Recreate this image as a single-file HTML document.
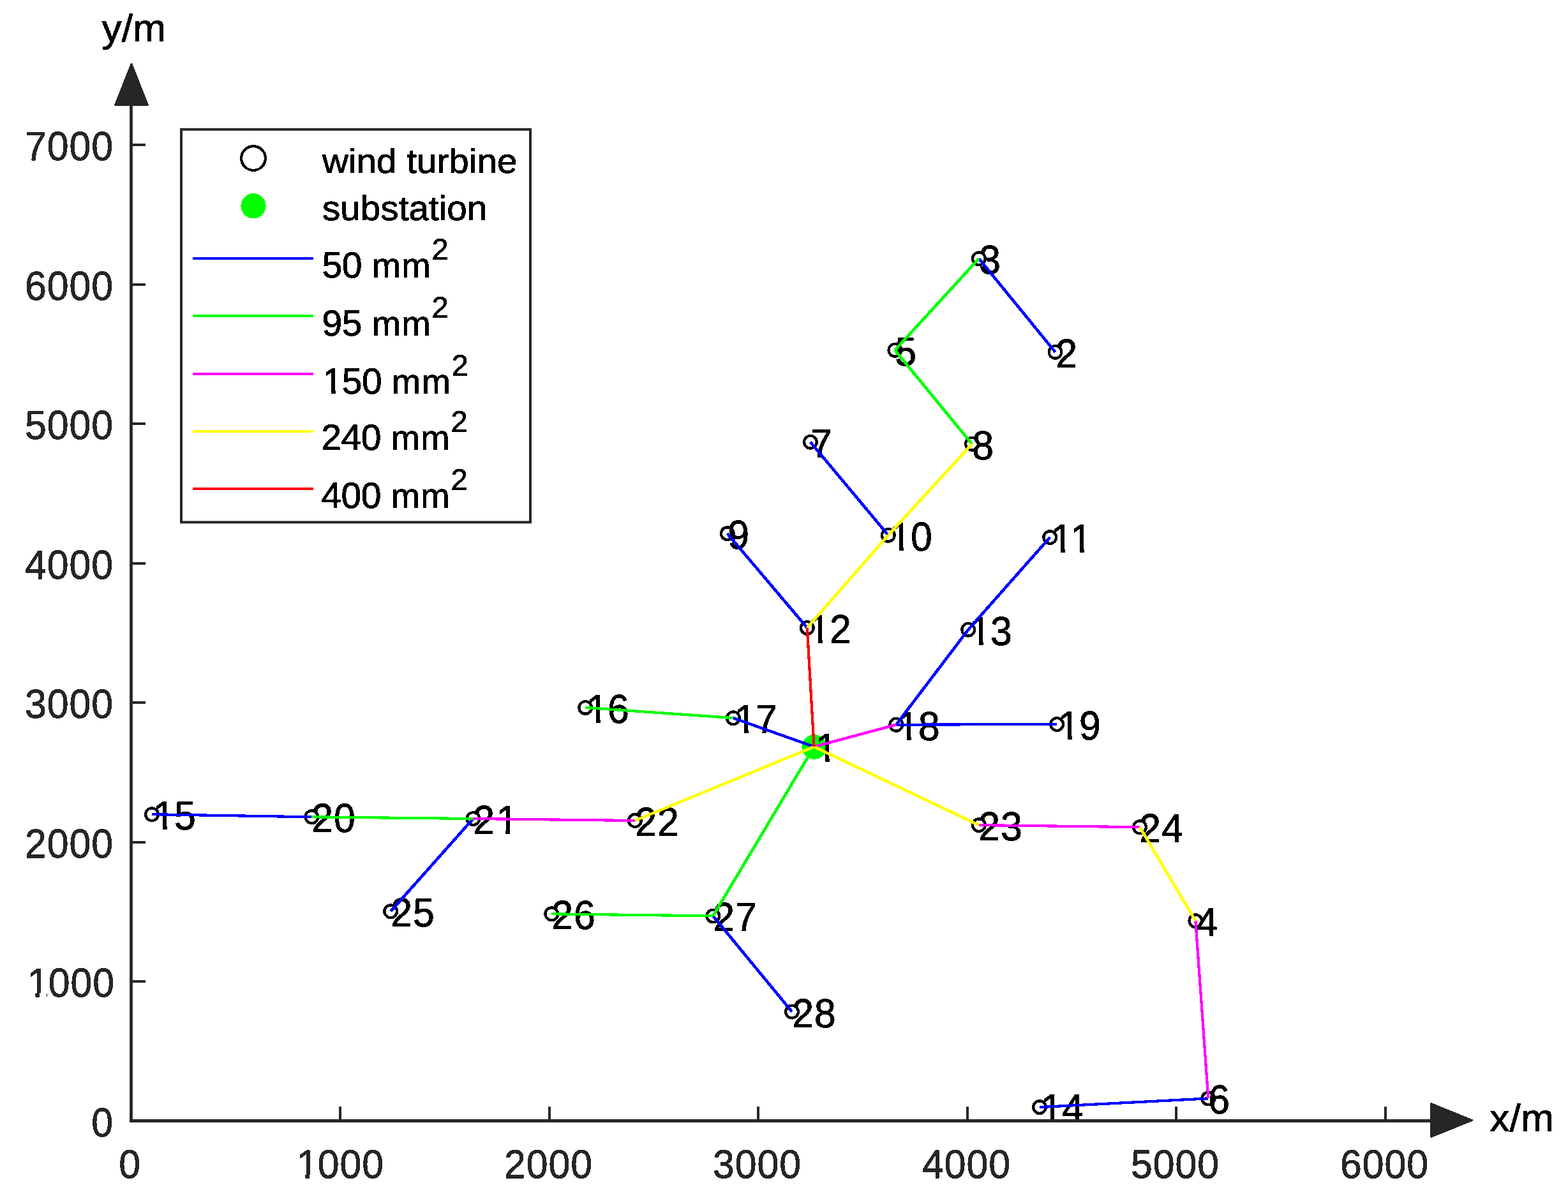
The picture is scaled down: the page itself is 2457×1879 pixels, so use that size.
<!DOCTYPE html>
<html lang="en"><head><meta charset="utf-8"><title>Wind farm cable layout</title>
<style>
html,body{margin:0;padding:0;background:#fff;}
body{width:2457px;height:1879px;overflow:hidden;}
svg{display:block;}
text{font-family:"Liberation Sans",Arial,Helvetica,sans-serif;stroke-linejoin:round;font-kerning:normal;text-rendering:geometricPrecision;}
.tk{font-size:60.8px;letter-spacing:0.936px;fill:#262626;stroke:#262626;stroke-width:0.8px;}
.nd{font-size:60.8px;letter-spacing:0.936px;fill:#000;stroke:#000;stroke-width:0.8px;}
.lg{font-size:54.3px;fill:#000;stroke:#000;stroke-width:0.9px;}
.lr{font-size:57.1px;letter-spacing:-0.5px;fill:#000;stroke:#000;stroke-width:0.9px;}
.mm{font-size:54.6px;letter-spacing:1.35px;}
.sp{font-size:47px;letter-spacing:0;}
.al{font-size:60.4px;fill:#000;stroke:#000;stroke-width:0.9px;}
</style></head><body>
<svg xmlns="http://www.w3.org/2000/svg" width="2457" height="1879" viewBox="0 0 2457 1879">
<defs><filter id="bin" filterUnits="userSpaceOnUse" x="0" y="0" width="2457" height="1879" color-interpolation-filters="sRGB"><feComponentTransfer><feFuncA type="discrete" tableValues="0 1"/></feComponentTransfer></filter><clipPath id="c49_163_m55_232_341_m55"><path clip-rule="evenodd" d="M-400,-200H400V200H-400ZM4.93,-5.54H16.34V3H4.93ZM23.21,-5.54H34.15V3H23.21Z"/></clipPath><clipPath id="c49_163_m55_232_341_m55_352_466_m55_534_644_m55"><path clip-rule="evenodd" d="M-400,-200H400V200H-400ZM4.93,-5.54H16.34V3H4.93ZM23.21,-5.54H34.15V3H23.21ZM35.17,-5.54H46.58V3H35.17ZM53.45,-5.54H64.38V3H53.45Z"/></clipPath><clipPath id="c397_511_m55_580_689_m55"><path clip-rule="evenodd" d="M-400,-200H400V200H-400ZM39.68,-5.54H51.09V3H39.68ZM57.96,-5.54H68.90V3H57.96Z"/></clipPath><clipPath id="cm646_m532_m55_m463_m354_m55"><path clip-rule="evenodd" d="M-400,-200H400V200H-400ZM-64.57,-5.54H-53.16V3H-64.57ZM-46.29,-5.54H-35.35V3H-46.29Z"/></clipPath><clipPath id="cm1341_m1227_m55_m1158_m1049_m55"><path clip-rule="evenodd" d="M-400,-200H400V200H-400ZM-134.07,-5.54H-122.66V3H-134.07ZM-115.79,-5.54H-104.85V3H-115.79Z"/></clipPath><clipPath id="c38_146_m53_212_315_m53"><path clip-rule="evenodd" d="M-400,-200H400V200H-400ZM3.85,-5.32H14.56V3H3.85ZM21.21,-5.32H31.47V3H21.21Z"/></clipPath></defs>
<rect x="0" y="0" width="2457" height="1879" fill="#fff"/>
<g filter="url(#bin)">
<g fill="none" stroke="#000" stroke-width="4.3">
<circle cx="1653.5" cy="551.7" r="9.85"/>
<circle cx="1533.9" cy="405.2" r="9.85"/>
<circle cx="1873.4" cy="1443.2" r="9.85"/>
<circle cx="1402.4" cy="548.8" r="9.85"/>
<circle cx="1893.3" cy="1721.4" r="9.85"/>
<circle cx="1269.9" cy="692.8" r="9.85"/>
<circle cx="1523.0" cy="695.8" r="9.85"/>
<circle cx="1139.7" cy="836.1" r="9.85"/>
<circle cx="1391.8" cy="838.7" r="9.85"/>
<circle cx="1645.2" cy="842.1" r="9.85"/>
<circle cx="1264.8" cy="983.9" r="9.85"/>
<circle cx="1517.2" cy="986.8" r="9.85"/>
<circle cx="1629.0" cy="1735.1" r="9.85"/>
<circle cx="238.0" cy="1276.2" r="9.85"/>
<circle cx="917.2" cy="1108.9" r="9.85"/>
<circle cx="1148.9" cy="1125.2" r="9.85"/>
<circle cx="1404.3" cy="1135.7" r="9.85"/>
<circle cx="1656.1" cy="1135.0" r="9.85"/>
<circle cx="488.4" cy="1280.3" r="9.85"/>
<circle cx="741.4" cy="1283.0" r="9.85"/>
<circle cx="994.9" cy="1286.0" r="9.85"/>
<circle cx="1533.9" cy="1293.1" r="9.85"/>
<circle cx="1786.0" cy="1296.2" r="9.85"/>
<circle cx="612.2" cy="1428.2" r="9.85"/>
<circle cx="864.3" cy="1432.3" r="9.85"/>
<circle cx="1117.3" cy="1435.4" r="9.85"/>
<circle cx="1241.0" cy="1585.6" r="9.85"/>
</g>
<circle cx="1275.8" cy="1170.6" r="19.4" fill="#00ff00"/>
<text class="nd" transform="translate(1276.3 1193.6) scale(1.0000 1.0480)" dx="1.8" clip-path="url(#c49_163_m55_232_341_m55)">1</text>
<text class="nd" transform="translate(1654.3 575.6) scale(1.0000 1.0480)">2</text>
<text class="nd" transform="translate(1534.3 428.6) scale(1.0000 1.0480)">3</text>
<text class="nd" transform="translate(1874.3 1466.6) scale(1.0000 1.0480)">4</text>
<text class="nd" transform="translate(1402.3 572.6) scale(1.0000 1.0480)">5</text>
<text class="nd" transform="translate(1893.3 1744.6) scale(1.0000 1.0480)">6</text>
<text class="nd" transform="translate(1270.3 716.6) scale(1.0000 1.0480)">7</text>
<text class="nd" transform="translate(1523.3 719.6) scale(1.0000 1.0480)">8</text>
<text class="nd" transform="translate(1140.3 859.6) scale(1.0000 1.0480)">9</text>
<text class="nd" transform="translate(1392.3 862.6) scale(1.0000 1.0480)" dx="1.8 -1.8" clip-path="url(#c49_163_m55_232_341_m55)">10</text>
<text class="nd" transform="translate(1645.3 865.6) scale(1.0000 1.0480)" dx="1.8 0" clip-path="url(#c49_163_m55_232_341_m55_352_466_m55_534_644_m55)">11</text>
<text class="nd" transform="translate(1265.3 1007.6) scale(1.0000 1.0480)" dx="1.8 -1.8" clip-path="url(#c49_163_m55_232_341_m55)">12</text>
<text class="nd" transform="translate(1517.3 1010.6) scale(1.0000 1.0480)" dx="1.8 -1.8" clip-path="url(#c49_163_m55_232_341_m55)">13</text>
<text class="nd" transform="translate(1629.3 1758.6) scale(1.0000 1.0480)" dx="1.8 -1.8" clip-path="url(#c49_163_m55_232_341_m55)">14</text>
<text class="nd" transform="translate(238.3 1299.6) scale(1.0000 1.0480)" dx="1.8 -1.8" clip-path="url(#c49_163_m55_232_341_m55)">15</text>
<text class="nd" transform="translate(917.3 1132.6) scale(1.0000 1.0480)" dx="1.8 -1.8" clip-path="url(#c49_163_m55_232_341_m55)">16</text>
<text class="nd" transform="translate(1149.3 1148.6) scale(1.0000 1.0480)" dx="1.8 -1.8" clip-path="url(#c49_163_m55_232_341_m55)">17</text>
<text class="nd" transform="translate(1404.3 1159.6) scale(1.0000 1.0480)" dx="1.8 -1.8" clip-path="url(#c49_163_m55_232_341_m55)">18</text>
<text class="nd" transform="translate(1656.3 1158.6) scale(1.0000 1.0480)" dx="1.8 -1.8" clip-path="url(#c49_163_m55_232_341_m55)">19</text>
<text class="nd" transform="translate(488.3 1303.6) scale(1.0000 1.0480)">20</text>
<text class="nd" transform="translate(741.3 1306.6) scale(1.0000 1.0480)" dx="0 1.8" clip-path="url(#c397_511_m55_580_689_m55)">21</text>
<text class="nd" transform="translate(995.3 1309.6) scale(1.0000 1.0480)">22</text>
<text class="nd" transform="translate(1533.3 1316.6) scale(1.0000 1.0480)">23</text>
<text class="nd" transform="translate(1785.3 1319.6) scale(1.0000 1.0480)">24</text>
<text class="nd" transform="translate(612.3 1451.6) scale(1.0000 1.0480)">25</text>
<text class="nd" transform="translate(864.3 1455.6) scale(1.0000 1.0480)">26</text>
<text class="nd" transform="translate(1117.3 1458.6) scale(1.0000 1.0480)">27</text>
<text class="nd" transform="translate(1241.3 1609.6) scale(1.0000 1.0480)">28</text>
</g>
<g stroke="#0000ff" fill="none" stroke-linecap="butt" shape-rendering="crispEdges">
<line x1="1533.9" y1="405.2" x2="1653.5" y2="551.7" stroke-width="4.66"/>
<line x1="1269.9" y1="692.8" x2="1391.8" y2="838.7" stroke-width="4.66"/>
<line x1="1139.7" y1="836.1" x2="1264.8" y2="983.9" stroke-width="4.66"/>
<line x1="1645.2" y1="842.1" x2="1517.2" y2="986.8" stroke-width="4.67"/>
<line x1="1517.2" y1="986.8" x2="1404.3" y2="1135.7" stroke-width="4.65"/>
<line x1="1404.3" y1="1135.7" x2="1656.1" y2="1135.0" stroke-width="4.17"/>
<line x1="1148.9" y1="1125.2" x2="1275.6" y2="1170.2" stroke-width="4.49"/>
<line x1="238.0" y1="1276.2" x2="488.4" y2="1280.3" stroke-width="4.19"/>
<line x1="612.2" y1="1428.2" x2="741.4" y2="1283.0" stroke-width="4.67"/>
<line x1="1117.3" y1="1435.4" x2="1241.0" y2="1585.6" stroke-width="4.66"/>
<line x1="1629.0" y1="1735.1" x2="1893.3" y2="1721.4" stroke-width="4.22"/>
</g>
<g stroke="#00ff00" fill="none" stroke-linecap="butt" shape-rendering="crispEdges">
<line x1="1533.9" y1="405.2" x2="1402.4" y2="548.8" stroke-width="4.67"/>
<line x1="1402.4" y1="548.8" x2="1523.0" y2="695.8" stroke-width="4.66"/>
<line x1="917.2" y1="1108.9" x2="1148.9" y2="1125.2" stroke-width="4.24"/>
<line x1="488.4" y1="1280.3" x2="741.4" y2="1283.0" stroke-width="4.18"/>
<line x1="864.3" y1="1432.3" x2="1117.3" y2="1435.4" stroke-width="4.18"/>
<line x1="1117.3" y1="1435.4" x2="1275.6" y2="1170.2" stroke-width="4.61"/>
</g>
<g stroke="#ff00ff" fill="none" stroke-linecap="butt" shape-rendering="crispEdges">
<line x1="1404.3" y1="1135.7" x2="1275.6" y2="1170.2" stroke-width="4.42"/>
<line x1="741.4" y1="1283.0" x2="994.9" y2="1286.0" stroke-width="4.18"/>
<line x1="1533.9" y1="1293.1" x2="1786.0" y2="1296.2" stroke-width="4.18"/>
<line x1="1873.4" y1="1443.2" x2="1893.3" y2="1721.4" stroke-width="4.24"/>
</g>
<g stroke="#ffff00" fill="none" stroke-linecap="butt" shape-rendering="crispEdges">
<line x1="1523.0" y1="695.8" x2="1391.8" y2="838.7" stroke-width="4.67"/>
<line x1="1391.8" y1="838.7" x2="1264.8" y2="983.9" stroke-width="4.67"/>
<line x1="994.9" y1="1286.0" x2="1275.6" y2="1170.2" stroke-width="4.52"/>
<line x1="1533.9" y1="1293.1" x2="1275.6" y2="1170.2" stroke-width="4.56"/>
<line x1="1786.0" y1="1296.2" x2="1873.4" y2="1443.2" stroke-width="4.61"/>
</g>
<g stroke="#ff0000" fill="none" stroke-linecap="butt" shape-rendering="crispEdges">
<line x1="1264.8" y1="983.9" x2="1275.6" y2="1170.2" stroke-width="4.23"/>
</g>
<g stroke="#262626" stroke-width="4.8" fill="none" stroke-linecap="butt">
<line x1="205.5" y1="160.0" x2="205.5" y2="1758.9"/>
<line x1="203.1" y1="1756.5" x2="2245.0" y2="1756.5"/>
</g>
<g stroke="#262626" stroke-width="4" fill="none">
<line x1="533.0" y1="1756.5" x2="533.0" y2="1734.2"/>
<line x1="861.0" y1="1756.5" x2="861.0" y2="1734.2"/>
<line x1="1188.0" y1="1756.5" x2="1188.0" y2="1734.2"/>
<line x1="1516.0" y1="1756.5" x2="1516.0" y2="1734.2"/>
<line x1="1843.0" y1="1756.5" x2="1843.0" y2="1734.2"/>
<line x1="2171.0" y1="1756.5" x2="2171.0" y2="1734.2"/>
<line x1="205.5" y1="1538.0" x2="228.0" y2="1538.0"/>
<line x1="205.5" y1="1320.0" x2="228.0" y2="1320.0"/>
<line x1="205.5" y1="1101.0" x2="228.0" y2="1101.0"/>
<line x1="205.5" y1="883.0" x2="228.0" y2="883.0"/>
<line x1="205.5" y1="664.0" x2="228.0" y2="664.0"/>
<line x1="205.5" y1="446.0" x2="228.0" y2="446.0"/>
<line x1="205.5" y1="227.0" x2="228.0" y2="227.0"/>
</g>
<g fill="#262626" stroke="#262626" stroke-width="3" stroke-linejoin="round" shape-rendering="crispEdges">
<polygon points="206.0,100.5 180.8,164.2 231.2,164.2"/>
<polygon points="2306.5,1755.6 2242.8,1729.8 2242.8,1781.3"/>
</g>
<g filter="url(#bin)">
<text class="tk" transform="translate(203.6 1846.0) scale(1.0000 1.0300)" text-anchor="middle">0</text>
<text class="tk" transform="translate(531.6 1846.0) scale(1.0000 1.0300)" text-anchor="middle" dx="1.8 -1.8 0 0" clip-path="url(#cm646_m532_m55_m463_m354_m55)">1000</text>
<text class="tk" transform="translate(859.6 1846.0) scale(1.0000 1.0300)" text-anchor="middle">2000</text>
<text class="tk" transform="translate(1186.6 1846.0) scale(1.0000 1.0300)" text-anchor="middle">3000</text>
<text class="tk" transform="translate(1514.6 1846.0) scale(1.0000 1.0300)" text-anchor="middle">4000</text>
<text class="tk" transform="translate(1841.6 1846.0) scale(1.0000 1.0300)" text-anchor="middle">5000</text>
<text class="tk" transform="translate(2169.6 1846.0) scale(1.0000 1.0300)" text-anchor="middle">6000</text>
<text class="tk" transform="translate(178.1 1781.0) scale(1.0000 1.0480)" text-anchor="end">0</text>
<text class="tk" transform="translate(178.1 1562.0) scale(1.0000 1.0480)" text-anchor="end" dx="1.8 -1.8 0 0" clip-path="url(#cm1341_m1227_m55_m1158_m1049_m55)">1000</text>
<text class="tk" transform="translate(178.1 1344.0) scale(1.0000 1.0480)" text-anchor="end">2000</text>
<text class="tk" transform="translate(178.1 1125.0) scale(1.0000 1.0480)" text-anchor="end">3000</text>
<text class="tk" transform="translate(178.1 907.0) scale(1.0000 1.0480)" text-anchor="end">4000</text>
<text class="tk" transform="translate(178.1 688.0) scale(1.0000 1.0480)" text-anchor="end">5000</text>
<text class="tk" transform="translate(178.1 470.0) scale(1.0000 1.0480)" text-anchor="end">6000</text>
<text class="tk" transform="translate(178.1 251.0) scale(1.0000 1.0480)" text-anchor="end">7000</text>
<text class="al" transform="translate(159.5 65.3) scale(1.0348 1.0000)">y/m</text>
<text class="al" transform="translate(2334.3 1773.4) scale(1.0348 1.0000)">x/m</text>
</g>
<rect x="284" y="202.8" width="547" height="615.6" fill="#fff" stroke="#262626" stroke-width="4"/>
<g filter="url(#bin)">
<circle cx="397" cy="248" r="18.9" fill="none" stroke="#000" stroke-width="4.2"/>
<circle cx="397" cy="322.8" r="19.6" fill="#00ff00"/>
<text class="lg" transform="translate(505.0 270.5) scale(1.0432 0.9850)">wind turbine</text>
<text class="lg" transform="translate(505.0 344.6) scale(1.0432 1.0000)">substation</text>
<line x1="302" y1="405.0" x2="491" y2="405.0" stroke="#0000ff" stroke-width="4.2"/>
<text class="lr" transform="translate(504.5 434.7)">50 <tspan class="mm">mm</tspan><tspan class="sp" dy="-27.4" dx="0.5">2</tspan></text>
<line x1="302" y1="495.0" x2="491" y2="495.0" stroke="#00ff00" stroke-width="4.2"/>
<text class="lr" transform="translate(504.5 525.7)">95 <tspan class="mm">mm</tspan><tspan class="sp" dy="-27.4" dx="0.5">2</tspan></text>
<line x1="302" y1="586.0" x2="491" y2="586.0" stroke="#ff00ff" stroke-width="4.2"/>
<text class="lr" transform="translate(504.5 616.7)" dx="1 -1 0" clip-path="url(#c38_146_m53_212_315_m53)">150 <tspan class="mm">mm</tspan><tspan class="sp" dy="-27.4" dx="0.5">2</tspan></text>
<line x1="302" y1="676.0" x2="491" y2="676.0" stroke="#ffff00" stroke-width="4.2"/>
<text class="lr" transform="translate(503.3 704.7)">240 <tspan class="mm">mm</tspan><tspan class="sp" dy="-27.4" dx="0.5">2</tspan></text>
<line x1="302" y1="766.0" x2="491" y2="766.0" stroke="#ff0000" stroke-width="4.2"/>
<text class="lr" transform="translate(503.3 795.7)">400 <tspan class="mm">mm</tspan><tspan class="sp" dy="-27.4" dx="0.5">2</tspan></text>
</g>
</svg>
</body></html>
